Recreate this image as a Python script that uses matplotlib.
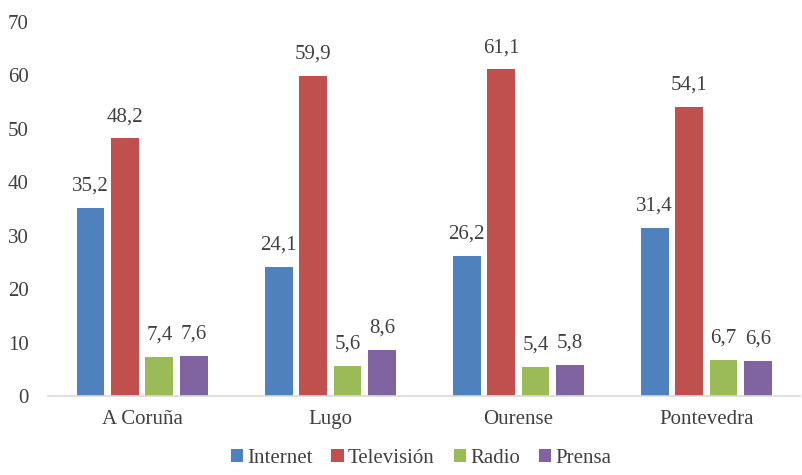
import numpy as np
import matplotlib.pyplot as plt

plt.rcParams['font.serif'] = ['Liberation Serif', 'DejaVu Serif']
plt.rcParams['font.family'] = 'serif'

provincias = ['A Coruña', 'Lugo', 'Ourense', 'Pontevedra']
series = ['Internet', 'Televisión', 'Radio', 'Prensa']
internet = [35.2, 24.1, 26.2, 31.4]
television = [48.2, 59.9, 61.1, 54.1]
radio = [7.4, 5.6, 5.4, 6.7]
prensa = [7.6, 8.6, 5.8, 6.6]
valores = [internet, television, radio, prensa]
colores = ['#4F81BD', '#C0504D', '#9BBB59', '#8064A2']

fig = plt.figure(figsize=(8.02, 4.75), dpi=100)
ax = fig.add_axes([0.06, 0.166, 0.938, 0.788])

x = np.arange(len(provincias))
ancho = 0.148
paso = 0.183
texto = '#404040'
fs = 15
for i, (nombre, vals, col) in enumerate(zip(series, valores, colores)):
    pos = x + (i - 1.5) * paso
    ax.bar(pos, vals, ancho, color=col, label=nombre, zorder=2)
    for p, v in zip(pos, vals):
        ax.text(p, v + 2.3, f'{v:.1f}'.replace('.', ','), ha='center', va='bottom',
                fontsize=fs, color=texto)

ax.set_xlim(-0.5, 3.5)
ax.set_ylim(0, 70)
ax.set_yticks(range(0, 71, 10))
ax.set_xticks(x, labels=provincias)
ax.tick_params(axis='both', length=0, labelsize=fs, colors=texto)
ax.tick_params(axis='y', pad=14)
ax.tick_params(axis='x', pad=10)
for s in ['top', 'right', 'left']:
    ax.spines[s].set_visible(False)
ax.spines['bottom'].set_color('#D9D9D9')
ax.spines['bottom'].set_linewidth(1.2)

fig.legend(loc='lower center', ncol=4, frameon=False, fontsize=fs,
           bbox_to_anchor=(0.525, -0.025), handlelength=0.6, handleheight=0.6,
           handletextpad=0.2, columnspacing=0.9, labelcolor=texto)

fig.savefig('out.png', dpi=100)
